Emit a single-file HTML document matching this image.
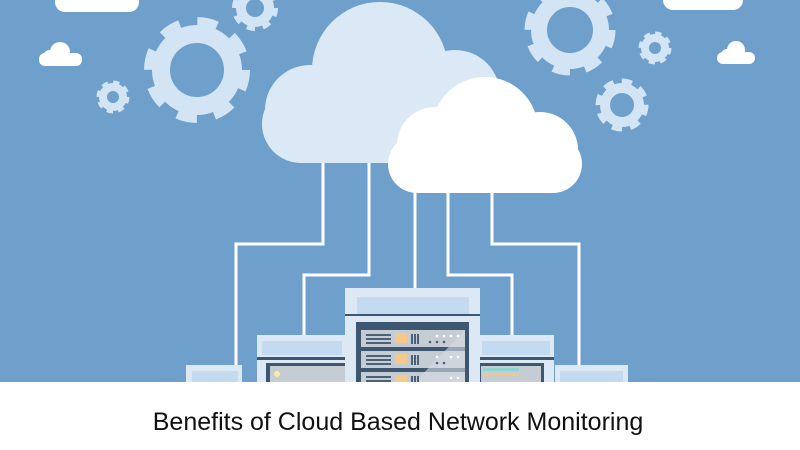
<!DOCTYPE html>
<html><head><meta charset="utf-8"><style>
html,body{margin:0;padding:0;background:#fff;}
.wrap{position:relative;width:800px;height:450px;overflow:hidden;}
.title{position:absolute;left:0;width:796px;top:408px;text-align:center;font-family:"Liberation Sans",sans-serif;font-size:25px;color:#111;}
</style></head><body><div class="wrap">
<svg width="800" height="382" viewBox="0 0 800 382" style="position:absolute;left:0;top:0">
<rect width="800" height="382" fill="#6fa0cc"/>
<rect x="55" y="-20" width="84" height="32" rx="10" fill="#fff"/>
<rect x="663" y="-20" width="80" height="30" rx="10" fill="#fff"/>
<g fill="#fff">
<rect x="39" y="53" width="43" height="13" rx="6"/><circle cx="60" cy="52" r="10"/><circle cx="50" cy="57" r="7"/>
<rect x="717" y="52" width="38" height="12" rx="6"/><circle cx="736" cy="50" r="9"/><circle cx="727" cy="55" r="6"/>
</g>
<g fill="none" stroke="#d3e4f4">
<circle cx="197" cy="70" r="36" stroke-width="18"/>
<circle cx="197" cy="70" r="48" stroke-width="10" stroke-dasharray="20 17.7" stroke-linejoin="round"/>
<circle cx="113" cy="97" r="10" stroke-width="8"/>
<circle cx="113" cy="97" r="14" stroke-width="5" stroke-dasharray="6 5"/>
<circle cx="255" cy="8" r="14" stroke-width="10"/>
<circle cx="255" cy="8" r="20" stroke-width="6" stroke-dasharray="8 7.7"/>
<circle cx="570" cy="30" r="31" stroke-width="16"/>
<circle cx="570" cy="30" r="41" stroke-width="9" stroke-dasharray="17 15.2"/>
<circle cx="655" cy="48" r="10" stroke-width="8"/>
<circle cx="655" cy="48" r="14" stroke-width="5" stroke-dasharray="6 5"/>
<circle cx="622" cy="105" r="17" stroke-width="10"/>
<circle cx="622" cy="105" r="23" stroke-width="7" stroke-dasharray="10 8"/>
</g>
<g fill="none" stroke="#fff" stroke-width="3">
<polyline points="323,150 323,244 236,244 236,382"/>
<polyline points="369,150 369,275 304,275 304,340"/>
<polyline points="415,180 415,292"/>
<polyline points="448,180 448,275 512,275 512,340"/>
<polyline points="492,180 492,244 579,244 579,382"/>
</g>
<g fill="#dbe9f7">
<rect x="262" y="85" width="235" height="78" rx="39"/>
<circle cx="380" cy="70" r="68"/>
<circle cx="310" cy="110" r="45"/>
<circle cx="455" cy="95" r="45"/>
</g>
<g fill="#fff">
<rect x="388" y="135" width="194" height="58" rx="29"/>
<circle cx="485" cy="130" r="53"/>
<circle cx="435" cy="145" r="38"/>
<circle cx="540" cy="150" r="38"/>
</g>
<rect x="186" y="365" width="56" height="20" fill="#dde8f5"/>
<rect x="192" y="371" width="46" height="14" fill="#c3daf0"/>
<rect x="555" y="365" width="73" height="20" fill="#dde8f5"/>
<rect x="560" y="371" width="63" height="14" fill="#c3daf0"/>
<rect x="257" y="335" width="90" height="50" fill="#dde8f5"/>
<rect x="262" y="341" width="80" height="14" fill="#c3daf0"/>
<rect x="257" y="357" width="90" height="3" fill="#3d5770"/>
<rect x="266" y="363" width="80" height="22" fill="#3d5770"/>
<rect x="270" y="366" width="76" height="16" fill="#c6ccd4"/>
<circle cx="277" cy="374" r="3" fill="#f3f0a0"/>
<rect x="478" y="335" width="76" height="50" fill="#dde8f5"/>
<rect x="482" y="341" width="68" height="14" fill="#c3daf0"/>
<rect x="478" y="357" width="76" height="3" fill="#3d5770"/>
<rect x="478" y="363" width="66" height="22" fill="#3d5770"/>
<rect x="481" y="366" width="60" height="16" fill="#c6ccd4"/>
<rect x="483" y="368" width="36" height="3" fill="#8fd4d0"/>
<rect x="483" y="373" width="36" height="3" fill="#f0c98a"/>
<rect x="345" y="288" width="135" height="97" fill="#dde8f5"/>
<rect x="357" y="297" width="112" height="17" fill="#c3daf0"/>
<rect x="345" y="314" width="135" height="2" fill="#3d5770"/>
<rect x="356" y="322" width="113" height="63" fill="#3d5770"/>
<g>
<rect x="361" y="330" width="104" height="17" fill="#c6ccd4"/>
<rect x="361" y="351" width="104" height="17" fill="#c6ccd4"/>
<rect x="361" y="372" width="104" height="13" fill="#c6ccd4"/>
<polygon points="415,382 465,330 465,382" fill="#d6dbe2" opacity="0.6"/>
<g fill="#4a6178">
<rect x="366" y="334" width="25" height="2"/><rect x="366" y="338" width="25" height="2"/><rect x="366" y="342" width="25" height="2"/>
<rect x="366" y="355" width="25" height="2"/><rect x="366" y="359" width="25" height="2"/><rect x="366" y="363" width="25" height="2"/>
<rect x="366" y="376" width="25" height="2"/><rect x="366" y="380" width="25" height="2"/>
<rect x="411" y="334" width="2" height="10"/><rect x="414" y="334" width="2" height="10"/><rect x="417" y="334" width="2" height="10"/>
<rect x="411" y="355" width="2" height="10"/><rect x="414" y="355" width="2" height="10"/><rect x="417" y="355" width="2" height="10"/>
<rect x="411" y="376" width="2" height="8"/><rect x="414" y="376" width="2" height="8"/><rect x="417" y="376" width="2" height="8"/>
</g>
<rect x="395" y="333" width="12" height="10" fill="#f6c98a"/>
<rect x="395" y="354" width="12" height="10" fill="#f6c98a"/>
<rect x="395" y="375" width="12" height="9" fill="#f6c98a"/>
<g fill="#fff"><circle cx="437" cy="336" r="1.3"/><circle cx="444" cy="336" r="1.3"/><circle cx="451" cy="336" r="1.3"/><circle cx="458" cy="336" r="1.3"/><circle cx="437" cy="357" r="1.3"/><circle cx="451" cy="357" r="1.3"/><circle cx="458" cy="357" r="1.3"/><circle cx="451" cy="378" r="1.3"/><circle cx="458" cy="378" r="1.3"/></g>
<g fill="#4a6178"><circle cx="430" cy="342" r="1.3"/><circle cx="437" cy="342" r="1.3"/><circle cx="444" cy="342" r="1.3"/><circle cx="437" cy="363" r="1.3"/><circle cx="444" cy="363" r="1.3"/><circle cx="437" cy="384" r="1.3"/></g>
</g>
</svg>
<div class="title">Benefits of Cloud Based Network Monitoring</div>
</div></body></html>
